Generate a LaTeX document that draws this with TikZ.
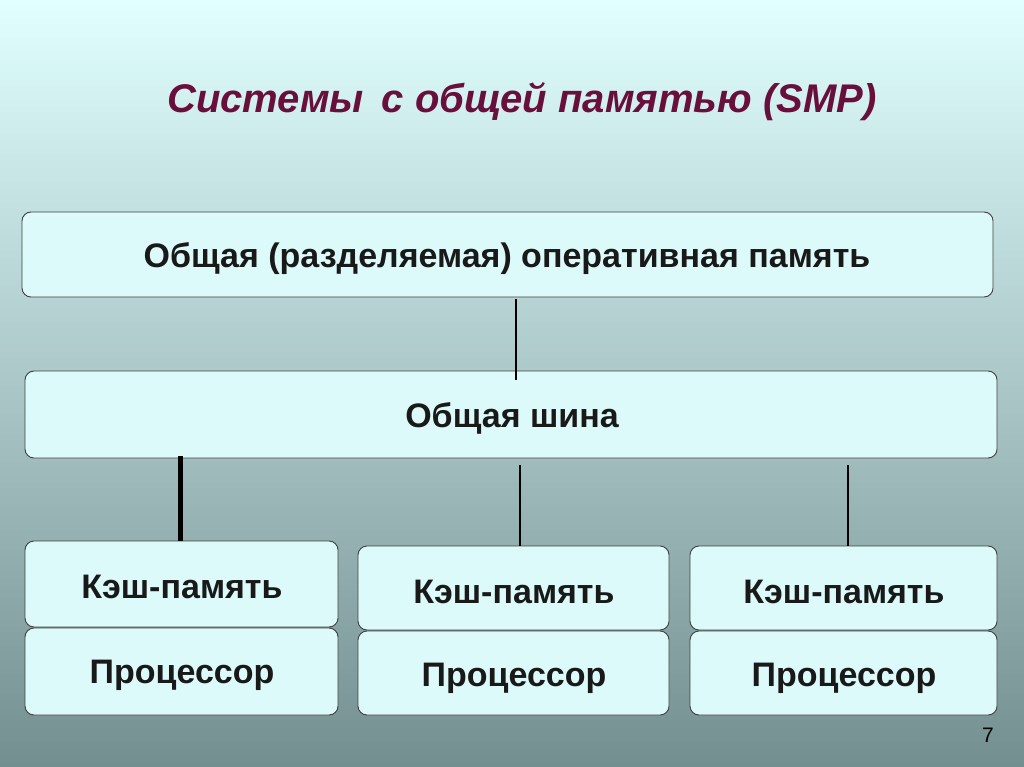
\documentclass[tikz,border=0pt]{standalone}
\usepackage{fontspec}
\setmainfont{Liberation Sans}
\definecolor{boxfill}{RGB}{220,250,250}
\begin{document}
\begin{tikzpicture}[x=1pt,y=-1pt,
  box/.style={draw=black!75,line width=0.9pt,fill=boxfill,rounded corners=9pt,inner sep=0pt},
  lbl/.style={font=\fontsize{34}{38}\selectfont\bfseries,text=black!90},
  link/.style={line width=2.6pt,black}]
\shade[top color=cyan!12!white,bottom color=cyan!20!black!55!white,middle color=cyan!20!gray!55!white] (0,0) rectangle (1024,767);
\useasboundingbox (0,0) rectangle (1024,767);
\node[font=\fontsize{40}{46}\selectfont\bfseries\itshape,text={rgb,255:red,105;green,15;blue,60}] (title) at (522,102) {Системы\, с общей памятью (SMP)};
\draw[box] (22,212) rectangle (993,297);
\node[lbl] (mem) at (507,259) {Общая (разделяемая) оперативная память};
\draw[box] (25,371) rectangle (997,458);
\node[lbl] (bus) at (512,418) {Общая шина};
\foreach \n/\a/\b/\c/\m in {l/25/338/541/627, m/358/669/546/630, r/690/997/546/630}{
  \draw[box] (\a,\c) rectangle (\b,\m);
  \draw[box] (\a,\m+1) rectangle (\b,715);
}
\node[lbl] (cl) at (182,587) {Кэш-память};
\node[lbl] (pl) at (182,675) {Процессор};
\node[lbl] (cm) at (514,592) {Кэш-память};
\node[lbl] (pm) at (514,678) {Процессор};
\node[lbl] (cr) at (844,592) {Кэш-память};
\node[lbl] (pr) at (844,678) {Процессор};
\coordinate (a1) at (516,299); \coordinate (a2) at (516,380);
\coordinate (b1) at (180,456); \coordinate (b2) at (180,541);
\coordinate (c1) at (520,465); \coordinate (c2) at (520,546);
\coordinate (d1) at (848,465); \coordinate (d2) at (848,546);
\draw[link] (a1) -- (a2);
\draw[link,line width=5pt] (b1) -- (b2);
\draw[link] (c1) -- (c2);
\draw[link] (d1) -- (d2);
\node[font=\fontsize{21}{24}\selectfont] (num) at (988,735) {7};
\end{tikzpicture}
\end{document}
